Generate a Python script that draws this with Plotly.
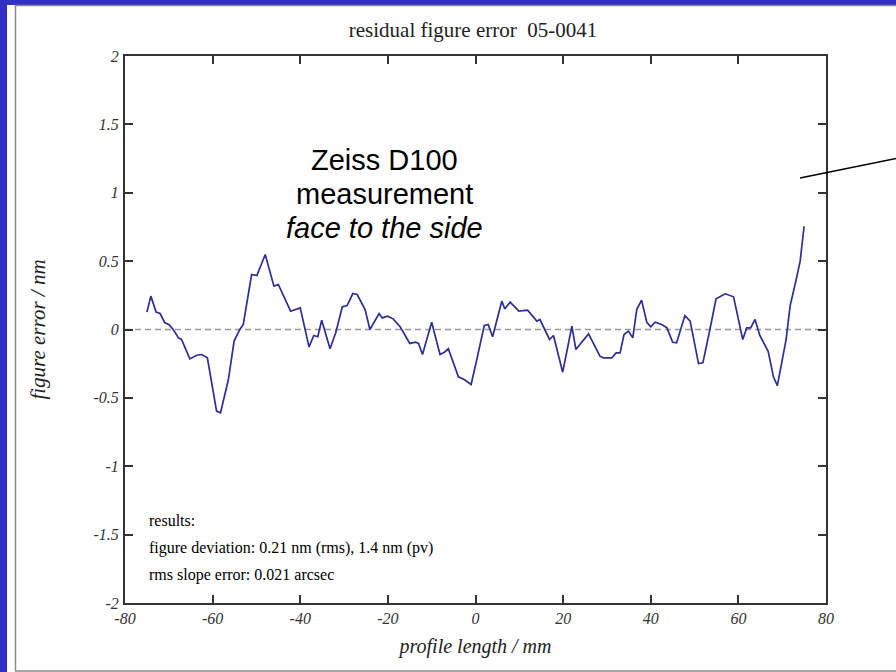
import plotly.graph_objects as go

# ---- data ----
profile_mm = [-75.0, -74.1, -72.9, -72.0, -70.9, -70.0, -69.0, -67.8, -67.1, -65.2, -63.6, -62.5, -61.2,
              -59.1, -58.2, -56.4, -55.1, -53.8, -53.0, -51.1, -49.9, -49.2, -48.0, -46.0, -45.0, -42.2,
              -40.0, -38.0, -36.9, -36.0, -35.1, -33.2, -31.9, -30.4, -29.3, -28.0, -27.0, -25.2, -24.1,
              -22.0, -21.3, -20.1, -18.8, -17.2, -15.0, -13.7, -13.0, -12.1, -10.0, -8.1, -7.1, -6.2,
              -3.9, -2.4, -1.0, 0.3, 2.0, 2.9, 3.9, 6.0, 6.7, 7.9, 9.9, 11.9, 14.0, 14.7, 16.9, 17.8,
              19.9, 22.0, 22.9, 25.8, 28.4, 29.2, 31.1, 32.1, 33.0, 33.9, 34.9, 35.9, 36.8, 37.9, 39.1,
              40.0, 41.0, 42.5, 43.7, 45.0, 45.9, 47.8, 49.0, 50.9, 51.9, 53.5, 54.9, 57.0, 58.9, 61.0,
              61.9, 62.8, 63.8, 64.9, 66.8, 68.0, 68.9, 70.9, 71.8, 73.2, 74.1, 75.0]
figure_error_nm = [0.127, 0.244, 0.127, 0.117, 0.049, 0.037, 0.0, -0.061, -0.073, -0.215, -0.188, -0.183, -0.207,
                   -0.597, -0.609, -0.366, -0.085, 0.0, 0.037, 0.402, 0.395, 0.451, 0.548, 0.317, 0.329, 0.134,
                   0.158, -0.127, -0.044, -0.053, 0.068, -0.141, -0.024, 0.166, 0.175, 0.263, 0.256, 0.146, 0.0,
                   0.117, 0.085, 0.097, 0.078, 0.020, -0.102, -0.093, -0.102, -0.183, 0.053, -0.183, -0.166, -0.141,
                   -0.346, -0.370, -0.402, -0.219, 0.029, 0.037, -0.053, 0.207, 0.151, 0.200, 0.134, 0.141, 0.061, 0.073, -0.073, -0.044,
                   -0.312, 0.024, -0.146, -0.032, -0.195, -0.207, -0.207, -0.171, -0.171, -0.037, -0.012, -0.061, 0.146, 0.215, 0.053,
                   0.020, 0.053, 0.037, 0.012, -0.093, -0.097, 0.102, 0.061, -0.249, -0.244, 0.0, 0.224, 0.261, 0.239, -0.073,
                   0.012, 0.012, 0.073, -0.044, -0.159, -0.346, -0.410, -0.073, 0.171, 0.366, 0.5, 0.755]

x_tickvals = [-80, -60, -40, -20, 0, 20, 40, 60, 80]
x_ticktext = ["-80", "-60", "-40", "-20", "0", "20", "40", "60", "80"]
y_tickvals = [-2, -1.5, -1, -0.5, 0, 0.5, 1, 1.5, 2]
y_ticktext = ["-2", "-1.5", "-1", "-0.5", "0", "0.5", "1", "1.5", "2"]

title_text = "residual figure error \u00a005-0041"
x_title = "profile length / mm"
y_title = "figure error / nm"
note_lines = ["Zeiss D100", "measurement", "<i>face to the side</i>"]
results_lines = ["results:", "figure deviation: 0.21 nm (rms), 1.4 nm (pv)", "rms slope error: 0.021 arcsec"]

# ---- layout constants ----
W, H = 896, 672
L, R, T, B = 125, 70, 56, 69
PW, PH = W - L - R, H - T - B


def px(xp):
    return (xp - L) / PW


def py(yp):
    return (H - B - yp) / PH


serif = "Liberation Serif, Times New Roman, serif"
sans = "Liberation Sans, Arial, sans-serif"
axis_col = "#333333"

fig = go.Figure()
fig.add_trace(go.Scatter(x=profile_mm, y=figure_error_nm, mode="lines",
                         line=dict(color="#2e2e96", width=1.7), showlegend=False,
                         hoverinfo="skip"))

shapes = [
    # white slide panel and its grey frame
    dict(type="rect", xref="paper", yref="paper", x0=px(7), x1=px(W + 20), y0=py(5), y1=py(H + 20),
         fillcolor="white", line=dict(width=0), layer="below"),
    dict(type="rect", xref="paper", yref="paper", x0=px(15.5), x1=px(W + 20), y0=py(5.5), y1=py(671),
         fillcolor="rgba(0,0,0,0)", line=dict(color="#8a8a8a", width=1.5), layer="below"),
    # zero reference line
    dict(type="line", xref="paper", yref="y", x0=0, x1=1, y0=0, y1=0,
         line=dict(color="#9a9a9a", width=1.5, dash="6px,4px"), layer="below"),
    # pointer line
    dict(type="line", xref="paper", yref="paper", x0=px(800), y0=py(178), x1=px(W + 2), y1=py(158),
         line=dict(color="black", width=1.5)),
]

annotations = []
for i, t in enumerate(note_lines):
    annotations.append(dict(xref="paper", yref="paper", x=px(384), y=py(160 + 34 * i),
                            xanchor="center", yanchor="middle", text=t, showarrow=False,
                            font=dict(family=sans, size=29, color="black")))
for i, t in enumerate(results_lines):
    annotations.append(dict(xref="paper", yref="paper", x=px(147), y=py(520 + 27.5 * i),
                            xanchor="left", yanchor="middle", text=t, showarrow=False,
                            font=dict(family=serif, size=16, color="black")))

fig.update_layout(
    width=W, height=H,
    margin=dict(l=L, r=R, t=T, b=B),
    paper_bgcolor="#3131c6",
    plot_bgcolor="white",
    title=dict(text=title_text, x=px(473), xref="paper", y=1 - 30 / H, yanchor="middle", xanchor="center",
               font=dict(family=serif, size=21, color="#222")),
    shapes=shapes,
    annotations=annotations,
    xaxis=dict(range=[-80, 80], tickvals=x_tickvals, ticktext=x_ticktext,
               showgrid=False, zeroline=False, showline=True, mirror="ticks",
               linecolor=axis_col, linewidth=2, ticks="inside", ticklen=8, tickwidth=2,
               tickcolor=axis_col,
               tickfont=dict(family=serif, size=16, color="#333", style="italic"),
               title=dict(text=x_title, standoff=13,
                          font=dict(family=serif, size=20, color="#222", style="italic"))),
    yaxis=dict(range=[-2, 2], tickvals=y_tickvals, ticktext=y_ticktext,
               showgrid=False, zeroline=False, showline=True, mirror="ticks",
               linecolor=axis_col, linewidth=2, ticks="inside", ticklen=8, tickwidth=2,
               tickcolor=axis_col, ticklabelstandoff=1,
               tickfont=dict(family=serif, size=16, color="#333", style="italic"),
               title=dict(text=y_title, standoff=42,
                          font=dict(family=serif, size=21, color="#222", style="italic"))),
)

fig.write_html("out.html")
